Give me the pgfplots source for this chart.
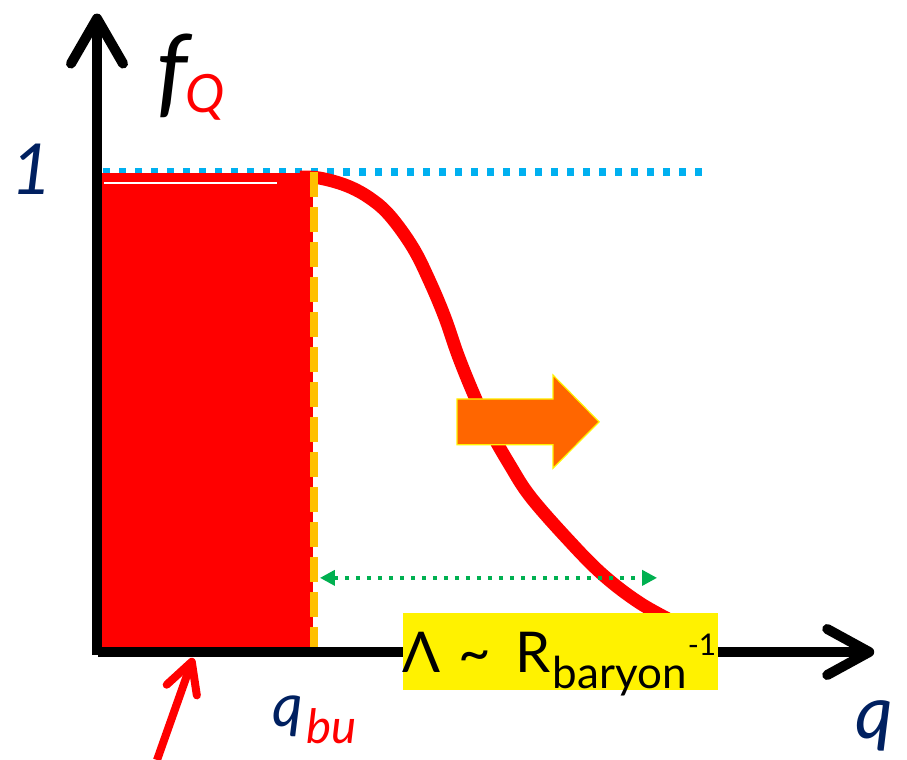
\documentclass[border=0pt]{standalone}
\usepackage{fontspec}
\setmainfont{Lato}
\usepackage{pgfplots}
\pgfplotsset{compat=1.18}
\usetikzlibrary{arrows.meta}

\definecolor{navy}{HTML}{002060}
\definecolor{skyb}{HTML}{00B0F0}
\definecolor{gold}{HTML}{FFC000}
\definecolor{grn}{HTML}{00B050}
\definecolor{orng}{HTML}{FF6600}

\begin{document}
\begin{tikzpicture}
\begin{axis}[
  scale only axis, width=9.07cm, height=7.6cm,
  xmin=-0.48815, xmax=3.81043, ymin=-0.23480, ymax=1.35849,
  hide axis, clip=false,
]
% saturation level f_Q = 1
\addplot[skyb, line width=0.075cm, dash pattern=on 0.07cm off 0.09cm]
  coordinates {(0,0.998) (2.853,0.998)};
% filled region below q_bu
\addplot[fill=red, draw=none]
  coordinates {(-0.02,0) (-0.02,0.996) (0.995,0.996) (0.995,0)} -- cycle;
\addplot[white, line width=0.02cm] coordinates {(0.005,0.975) (0.825,0.975)};
% fall-off of f_Q above q_bu
\addplot[red, line width=0.13cm, smooth, tension=0.6] coordinates {
  (0.934,0.987) (1.028,0.985) (1.156,0.969) (1.265,0.943) (1.360,0.906)
  (1.469,0.839) (1.550,0.767) (1.621,0.692) (1.682,0.614) (1.754,0.535)
  (1.834,0.457) (1.929,0.383) (2.024,0.318) (2.194,0.232) (2.365,0.155)
  (2.545,0.094) (2.735,0.048)};
% q = q_bu
\addplot[gold, line width=0.085cm, dash pattern=on 0.25cm off 0.1cm]
  coordinates {(1.0,0.998) (1.0,0)};
% axes
\draw[line width=0.1cm, -{Straight Barb[length=0.45cm, width=0.52cm, round]}]
  (axis cs:-0.0284,-0.0147) -- (axis cs:-0.0284,1.330);
\draw[line width=0.1cm, -{Straight Barb[length=0.42cm, width=0.46cm, round]}]
  (axis cs:-0.0237,-0.0084) -- (axis cs:3.655,-0.0084);
% width of the fall-off
\draw[grn, line width=0.045cm, dash pattern=on 0.045cm off 0.065cm,
  {Triangle[length=0.15cm, width=0.15cm]}-{Triangle[length=0.15cm, width=0.15cm]}]
  (axis cs:1.028,0.147) -- (axis cs:2.626,0.147);
% shift direction
\addplot[fill=orng, draw=yellow, line width=0.012cm] coordinates {
  (1.678,0.522) (2.133,0.522) (2.133,0.572) (2.351,0.474)
  (2.133,0.377) (2.133,0.426) (1.678,0.426)} -- cycle;
% scale label
\fill[yellow] (axis cs:1.422,0.073) rectangle (axis cs:2.915,-0.088);
\node[anchor=base west, inner sep=0] at (axis cs:1.417,-0.0524)
  {\fontsize{16}{18}\selectfont Λ\hspace{5pt}\textasciitilde\hspace{7pt}R};
\node[anchor=base west, inner sep=0] at (axis cs:2.128,-0.0839)
  {\fontsize{12.5}{14}\selectfont baryon};
\node[anchor=base west, inner sep=0] at (axis cs:2.768,-0.0147)
  {\fontsize{8.5}{9}\selectfont -1};
% axis labels
\node[anchor=base west, inner sep=0] at (axis cs:0.252,1.138)
  {\fontsize{28}{30}\selectfont\itshape f};
\node[anchor=base west, inner sep=0, red] at (axis cs:0.389,1.1216)
  {\fontsize{15}{17}\selectfont\itshape Q};
\node[anchor=base, inner sep=0, navy] at (axis cs:-0.336,0.950)
  {\fontsize{20}{22}\selectfont\itshape 1};
\node[anchor=base west, inner sep=0, navy] at (axis cs:0.801,-0.1656)
  {\fontsize{17}{19}\selectfont\itshape q};
\node[anchor=base west, inner sep=0, red] at (axis cs:0.962,-0.1992)
  {\fontsize{13.5}{15}\selectfont\itshape bu};
\node[anchor=base west, inner sep=0, navy] at (axis cs:3.564,-0.1887)
  {\fontsize{21}{23}\selectfont\itshape q};
% pointer to the filled region
\draw[red, line width=0.08cm, -{Straight Barb[length=0.3cm, width=0.32cm, round]}]
  (axis cs:0.256,-0.2348) -- (axis cs:0.427,-0.021);
\end{axis}
\pgfresetboundingbox
\path (current axis.south west) rectangle (current axis.north east);
\end{tikzpicture}
\end{document}
